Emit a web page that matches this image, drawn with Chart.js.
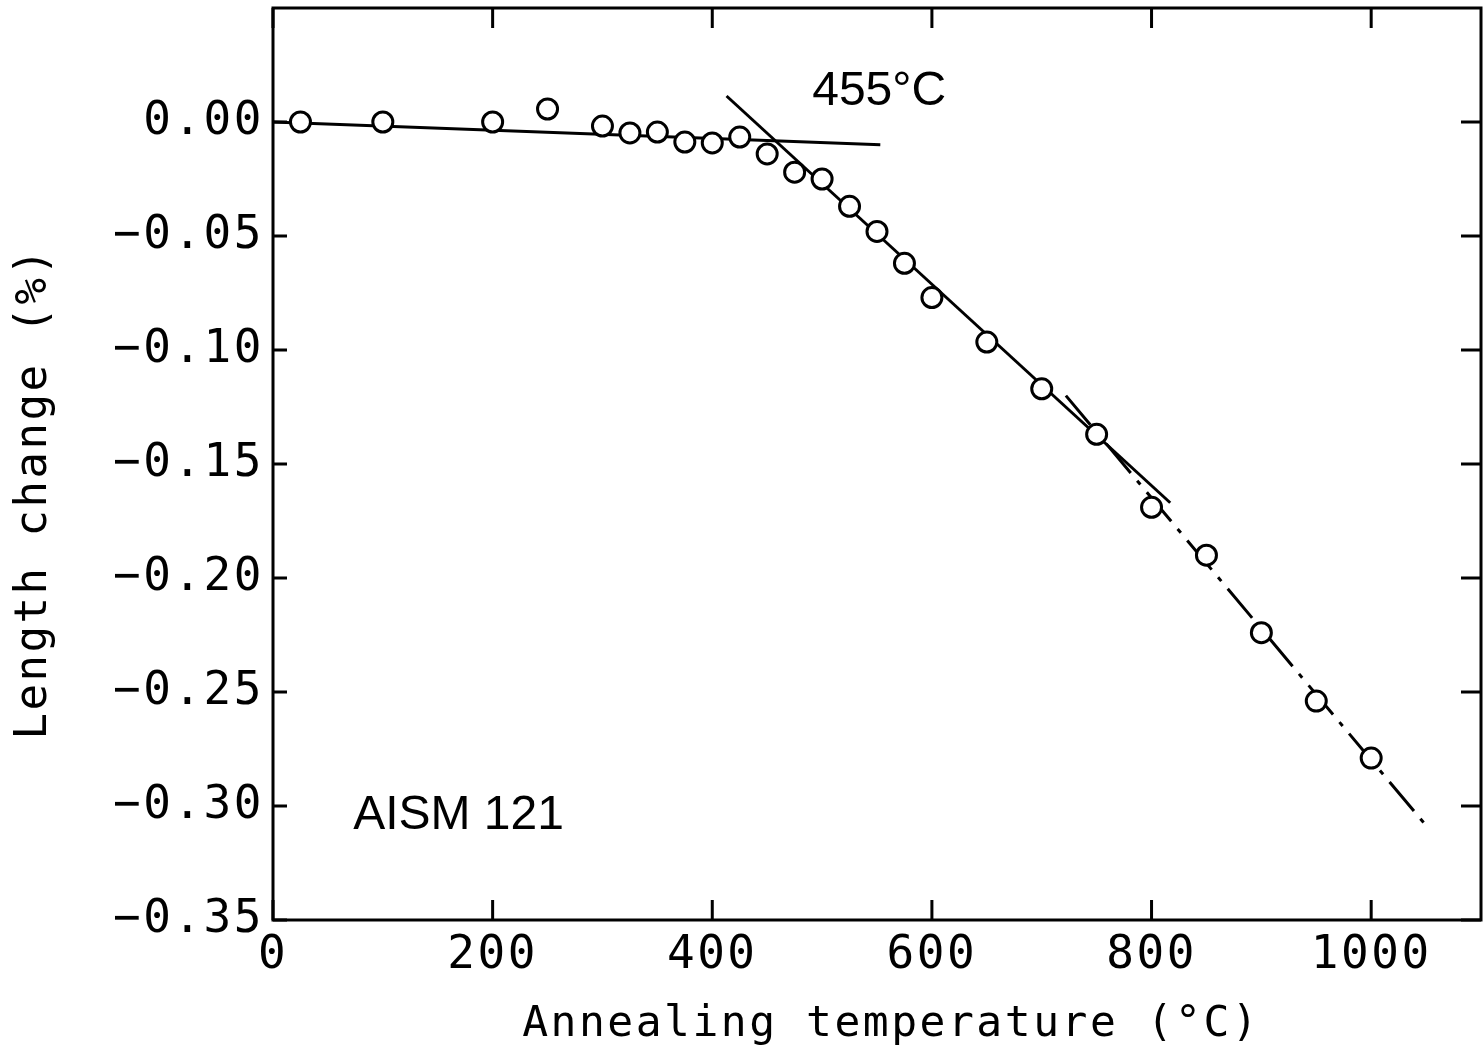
<!DOCTYPE html>
<html>
<head>
<meta charset="utf-8">
<script src="https://cdn.jsdelivr.net/npm/chart.js@4/dist/chart.umd.min.js"></script>
<style>
  html, body { margin: 0; padding: 0; background: #fff; }
  canvas { display: block; }
</style>
</head>
<body>
<canvas id="chart" width="1483" height="1051"></canvas>
<script>
// measured points
const temps = [25, 100, 200, 250, 300, 325, 350, 375, 400, 425, 450, 475, 500,
  525, 550, 575, 600, 650, 700, 750, 800, 850, 900, 950, 1000];
const lengthChange = [0, 0, 0, 0.0057, -0.0018, -0.0048, -0.0044, -0.0088, -0.0092,
  -0.0066, -0.014, -0.022, -0.025, -0.037, -0.048, -0.062, -0.077, -0.0965,
  -0.117, -0.137, -0.169, -0.190, -0.224, -0.254, -0.279];

// fitted lines (end points)
const flatFitX = [0, 553];
const flatFitY = [0, -0.010];
const steepFitX = [413, 817];
const steepFitY = [0.0114, -0.167];
const dashFitX = [722, 1049];
const dashFitY = [-0.120, -0.308];

// tick values
const xTicks = [0, 200, 400, 600, 800, 1000];
const yTicks = [0, -0.05, -0.10, -0.15, -0.20, -0.25, -0.30, -0.35];

// text notes: [label, x, y]
const notes = [
  ["455°C", 491, 0.0075],
  ["AISM 121", 73, -0.310],
];

const toPoints = (xs, ys) => xs.map((x, i) => ({ x: x, y: ys[i] }));

const MONO = '"DejaVu Sans Mono", monospace';
const SPACING = "2.5px";

const framePlugin = {
  id: "framePlugin",
  beforeUpdate(chart) {
    chart.ctx.letterSpacing = SPACING;
  },
  beforeDraw(chart) {
    chart.ctx.letterSpacing = SPACING;
  },
  afterDraw(chart) {
    const { ctx, chartArea: a, scales: { x, y } } = chart;
    ctx.save();
    ctx.strokeStyle = "#000";
    ctx.lineWidth = 3;
    ctx.strokeRect(a.left, a.top, a.right - a.left, a.bottom - a.top);

    // inward ticks on all four sides
    ctx.beginPath();
    x.ticks.forEach((t) => {
      const px = x.getPixelForValue(t.value);
      ctx.moveTo(px, a.bottom);
      ctx.lineTo(px, a.bottom - 20);
      ctx.moveTo(px, a.top);
      ctx.lineTo(px, a.top + 20);
    });
    y.ticks.forEach((t) => {
      const py = y.getPixelForValue(t.value);
      ctx.moveTo(a.left, py);
      ctx.lineTo(a.left + 14, py);
      ctx.moveTo(a.right, py);
      ctx.lineTo(a.right - 20, py);
    });
    ctx.stroke();

    ctx.letterSpacing = "0px";
    ctx.fillStyle = "#000";
    ctx.font = '48px "Liberation Sans", sans-serif';
    ctx.textAlign = "left";
    ctx.textBaseline = "alphabetic";
    notes.forEach(([txt, vx, vy]) => {
      ctx.fillText(txt, x.getPixelForValue(vx), y.getPixelForValue(vy));
    });
    ctx.restore();
  },
};

const lineStyle = {
  showLine: true,
  pointRadius: 0,
  borderColor: "#000",
  borderWidth: 3,
  fill: false,
  order: 2,
};

function noEdgePadding(scale) {
  scale.paddingTop = 0;
  scale.paddingBottom = 0;
  scale.paddingLeft = 0;
  scale.paddingRight = 0;
}

new Chart(document.getElementById("chart"), {
  type: "scatter",
  data: {
    datasets: [
      {
        label: "Length change",
        data: toPoints(temps, lengthChange),
        pointRadius: 10,
        pointBorderWidth: 3,
        pointBackgroundColor: "#fff",
        pointBorderColor: "#000",
        order: 0,
      },
      Object.assign({ label: "flat", data: toPoints(flatFitX, flatFitY) }, lineStyle),
      Object.assign({ label: "steep", data: toPoints(steepFitX, steepFitY) }, lineStyle),
      Object.assign(
        { label: "high", data: toPoints(dashFitX, dashFitY), borderDash: [38, 10, 5, 10] },
        lineStyle
      ),
    ],
  },
  plugins: [framePlugin],
  options: {
    responsive: false,
    animation: false,
    layout: { autoPadding: false, padding: { top: 8, right: 2, left: 0, bottom: 0 } },
    plugins: {
      legend: { display: false },
      tooltip: { enabled: false },
    },
    scales: {
      x: {
        type: "linear",
        min: 0,
        max: 1100,
        grid: { display: false, drawTicks: false },
        border: { display: false },
        afterBuildTicks(scale) {
          scale.ticks = xTicks.map((v) => ({ value: v }));
        },
        afterFit(scale) {
          scale.height = 131;
          noEdgePadding(scale);
        },
        ticks: {
          color: "#000",
          padding: 8,
          maxRotation: 0,
          font: { family: MONO, size: 46 },
          callback: (v) => String(v),
        },
        title: {
          display: true,
          text: "\u00a0Annealing temperature (°C)",
          color: "#000",
          font: { family: MONO, size: 43 },
          padding: { top: 0, bottom: 0 },
        },
      },
      y: {
        type: "linear",
        min: -0.35,
        max: 0.05,
        grid: { display: false, drawTicks: false },
        border: { display: false },
        afterBuildTicks(scale) {
          scale.ticks = yTicks.map((v) => ({ value: v }));
        },
        afterFit(scale) {
          scale.width = 273;
          noEdgePadding(scale);
        },
        ticks: {
          color: "#000",
          padding: 9,
          font: { family: MONO, size: 46 },
          callback: (v) =>
            Math.abs(v) < 1e-9 ? "0.00" : (v < 0 ? "\u2212" : "") + Math.abs(v).toFixed(2),
        },
        title: {
          display: true,
          text: "Length change (%)\u00a0\u00a0",
          color: "#000",
          font: { family: MONO, size: 44 },
          padding: { top: 8, bottom: 0 },
        },
      },
    },
  },
});
</script>
</body>
</html>
